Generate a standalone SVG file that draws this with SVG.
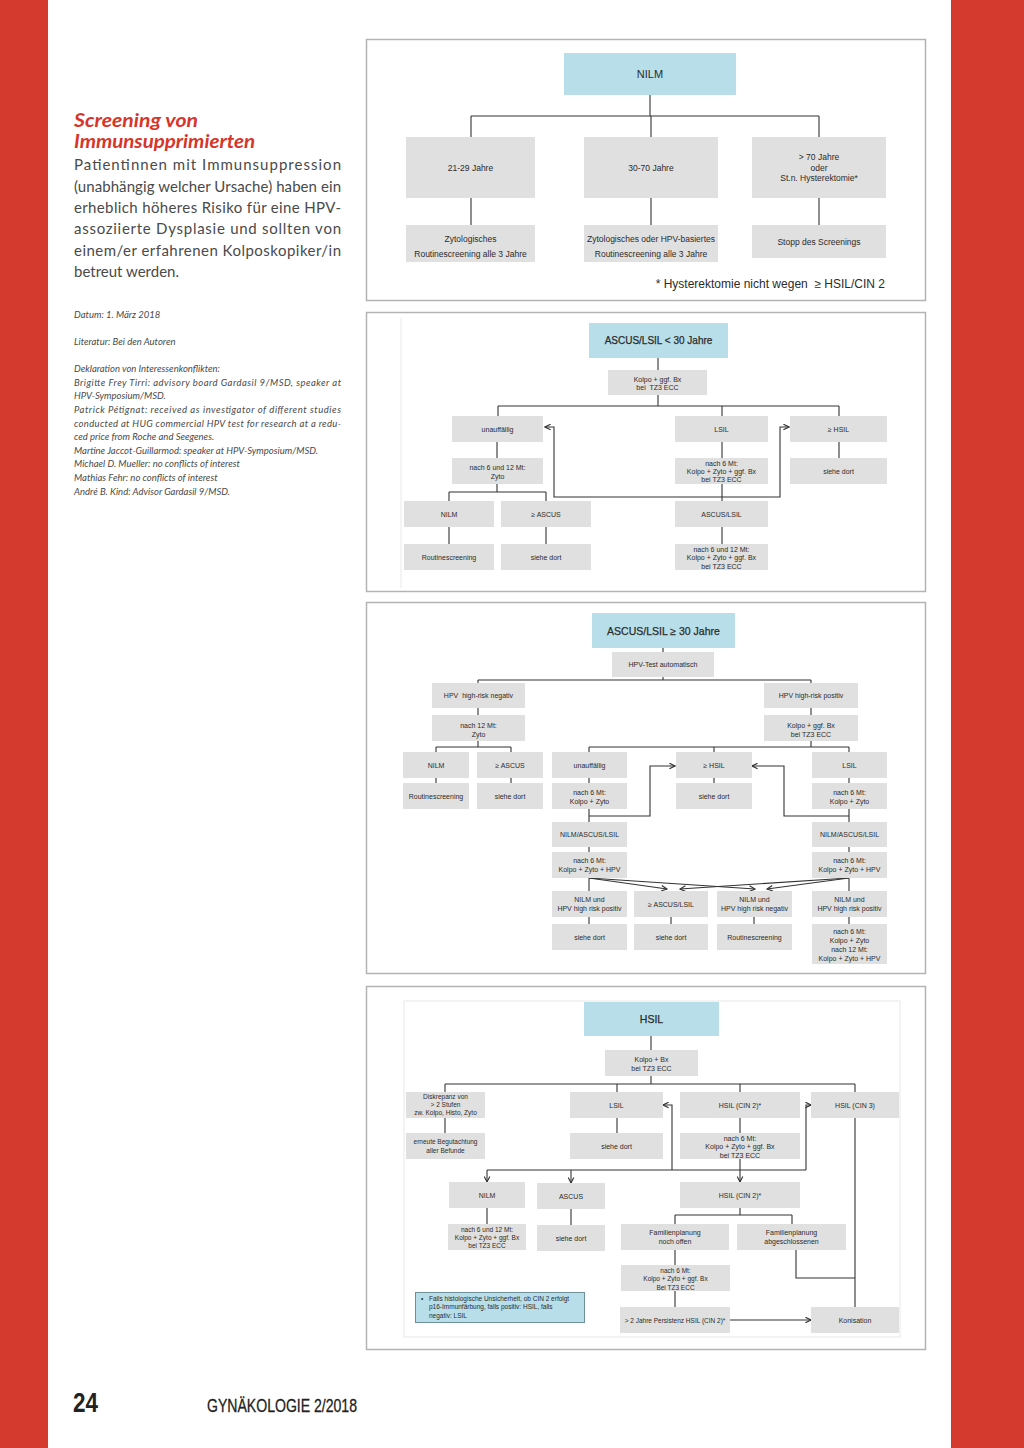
<svg xmlns="http://www.w3.org/2000/svg" width="1024" height="1448" viewBox="0 0 1024 1448">
<style>
.bx{fill:#e0e0e0}
.bb{fill:#b8dfe9}
.t{font-family:"Liberation Sans",Arial,sans-serif;fill:#2b2b2b;text-anchor:middle}
.f7{font-size:7px}
.f65{font-size:6.5px}
.f85{font-size:8.5px}
.tt{stroke:#2b2b2b;stroke-width:0.25}
.cn path{stroke:#333;stroke-width:1.1;fill:none}
.pn{fill:#fff;stroke:#b3b3b3;stroke-width:1.5}
.inner{fill:none;stroke:#e2e2e2;stroke-width:0.8}
.body{font-family:Lato,"Open Sans",sans-serif;fill:#4a4a4a;font-size:15px}
.sm{font-family:Lato,"Open Sans",sans-serif;fill:#4a4a4a;font-size:9.5px;font-style:italic}
</style>
<defs>
<marker id="ah" viewBox="0 0 10 10" refX="9" refY="5" markerWidth="7" markerHeight="7" markerUnits="userSpaceOnUse" orient="auto-start-reverse">
<path d="M1,1 L9,5 L1,9" fill="none" stroke="#333" stroke-width="1.6"/>
</marker>
</defs>
<rect width="1024" height="1448" fill="#fff"/>
<rect x="0" y="0" width="48" height="1448" fill="#d43a2e"/>
<rect x="951" y="0" width="73" height="1448" fill="#d43a2e"/>

<!-- left column text -->
<g id="left-text">
<text x="74" y="127" font-family="Lato,'Open Sans',sans-serif" font-size="18.5" font-weight="bold" font-style="italic" fill="#d7352a" textLength="124" lengthAdjust="spacingAndGlyphs">Screening von</text>
<text x="74" y="148" font-family="Lato,'Open Sans',sans-serif" font-size="18.5" font-weight="bold" font-style="italic" fill="#d7352a" textLength="181" lengthAdjust="spacingAndGlyphs">Immunsupprimierten</text>
<text class="body" x="74" y="170" textLength="267" lengthAdjust="spacing">Patientinnen mit Immunsuppression</text>
<text class="body" x="74" y="192" textLength="267" lengthAdjust="spacing">(unabhängig welcher Ursache) haben ein</text>
<text class="body" x="74" y="213" textLength="267" lengthAdjust="spacing">erheblich höheres Risiko für eine HPV-</text>
<text class="body" x="74" y="234" textLength="267" lengthAdjust="spacing">assoziierte Dysplasie und sollten von</text>
<text class="body" x="74" y="256" textLength="267" lengthAdjust="spacing">einem/er erfahrenen Kolposkopiker/in</text>
<text class="body" x="74" y="277">betreut werden.</text>
<text class="sm" x="74" y="318">Datum: 1. März 2018</text>
<text class="sm" x="74" y="345">Literatur: Bei den Autoren</text>
<text class="sm" x="74" y="372">Deklaration von Interessenkonflikten:</text>
<text class="sm" x="74" y="386" textLength="267" lengthAdjust="spacing">Brigitte Frey Tirri: advisory board Gardasil 9/MSD, speaker at</text>
<text class="sm" x="74" y="399">HPV-Symposium/MSD.</text>
<text class="sm" x="74" y="413" textLength="267" lengthAdjust="spacing">Patrick Pétignat: received as investigator of different studies</text>
<text class="sm" x="74" y="427" textLength="267" lengthAdjust="spacing">conducted at HUG commercial HPV test for research at a redu-</text>
<text class="sm" x="74" y="440">ced price from Roche and Seegenes.</text>
<text class="sm" x="74" y="454">Martine Jaccot-Guillarmod: speaker at HPV-Symposium/MSD.</text>
<text class="sm" x="74" y="467">Michael D. Mueller: no conflicts of interest</text>
<text class="sm" x="74" y="481">Mathias Fehr: no conflicts of interest</text>
<text class="sm" x="74" y="495">André B. Kind: Advisor Gardasil 9/MSD.</text>
</g>

<g id="footer">
<text x="73" y="1412" font-family="'Liberation Sans',Arial,sans-serif" font-size="27" font-weight="bold" fill="#222" textLength="25" lengthAdjust="spacingAndGlyphs">24</text>
<text x="207" y="1412" font-family="'Liberation Sans',Arial,sans-serif" font-size="19" fill="#222" stroke="#222" stroke-width="0.3" textLength="150" lengthAdjust="spacingAndGlyphs">GYNÄKOLOGIE 2/2018</text>
</g>

<!-- panel frames -->
<g id="panels">
<rect class="pn" x="366.5" y="39.5" width="559" height="261"/>
<rect class="pn" x="366.5" y="312.5" width="559" height="279"/>
<path class="inner" d="M401,318 V588"/>
<rect class="pn" x="366.5" y="602.5" width="559" height="371"/>
<rect class="pn" x="366.5" y="986.5" width="559" height="363"/>
<rect class="inner" x="404" y="1001" width="496" height="336"/>
</g>

<!-- connectors -->
<g id="connectors" class="cn">
<!-- panel 1 -->
<path d="M650,95 V116 M471,116 H819 M471,116 V137 M651,116 V137 M819,116 V137"/>
<path d="M471,198 V225 M651,198 V225 M819,198 V225"/>
<!-- panel 2 -->
<path d="M658,358 V370 M658,395 V406 M498,406 H839 M498,406 V416 M722,406 V416 M839,406 V416"/>
<path d="M497,442 V458 M497,484 V492 M449,492 H546 M449,492 V501 M546,492 V501 M449,527 V544 M546,527 V544"/>
<path d="M722,442 V458 M722,484 V501 M722,527 V544 M839,442 V458"/>
<path d="M545,427 H554 V497 H780 V427 H789" marker-start="url(#ah)" marker-end="url(#ah)"/>
<!-- panel 3 -->
<path d="M663,648 V652 M663,677 V680 M478,680 H811 M478,680 V683 M811,680 V683"/>
<path d="M478,708 V715 M478,741 V747 M436,747 H511 M436,747 V752 M511,747 V752 M436,778 V783 M511,778 V783"/>
<path d="M811,708 V715 M811,741 V747 M589,747 H849 M589,747 V752 M714,747 V752 M849,747 V752"/>
<path d="M589,778 V783 M714,778 V783 M849,778 V783 M589,809 V822 M849,809 V822"/>
<path d="M589,816 H650 V766 H675" marker-end="url(#ah)"/>
<path d="M849,816 H784 V766 H752" marker-end="url(#ah)"/>
<path d="M589,847 V852 M849,847 V852 M589,878 V891 M849,878 V891"/>
<path d="M589,878 L667,889" marker-end="url(#ah)"/>
<path d="M589,878 L755,889" marker-end="url(#ah)"/>
<path d="M849,878 L680,889" marker-end="url(#ah)"/>
<path d="M849,878 L767,889" marker-end="url(#ah)"/>
<path d="M589,917 V924 M671,917 V924 M754,917 V924 M849,917 V924"/>
<!-- panel 4 -->
<path d="M651,1036 V1050 M651,1076 V1084 M445,1084 H855 M445,1084 V1092 M617,1084 V1092 M740,1084 V1092 M855,1084 V1092"/>
<path d="M445,1118 V1133 M617,1118 V1133 M740,1118 V1133"/>
<path d="M663,1105 H672 V1170" marker-start="url(#ah)"/>
<path d="M806,1170 V1105 H811" marker-end="url(#ah)"/>
<path d="M487,1170 H806"/>
<path d="M487,1170 V1182" marker-end="url(#ah)"/>
<path d="M571,1170 V1183" marker-end="url(#ah)"/>
<path d="M740,1159 V1182" marker-end="url(#ah)"/>
<path d="M487,1208 V1224 M571,1209 V1225 M740,1208 V1215 M675,1215 H792 M675,1215 V1224 M792,1215 V1224"/>
<path d="M675,1250 V1265 M675,1291 V1307 M855,1118 V1307 M796,1250 V1278 H855"/>
<path d="M730,1320 H811" marker-end="url(#ah)"/>
</g>

<!-- panel 1 nodes -->
<g id="p1-nilm"><rect class="bb" x="564" y="53" width="172" height="42"/><text class="t" x="650" y="78" font-size="11">NILM</text></g>
<g id="p1-21-29"><rect class="bx" x="406" y="137" width="129" height="61"/><text class="t f85" x="470.5" y="171">21-29 Jahre</text></g>
<g id="p1-30-70"><rect class="bx" x="584" y="137" width="134" height="61"/><text class="t f85" x="651" y="171">30-70 Jahre</text></g>
<g id="p1-70"><rect class="bx" x="752" y="137" width="134" height="61"/><text class="t f85" x="819" y="160">&gt; 70 Jahre</text><text class="t f85" x="819" y="171">oder</text><text class="t f85" x="819" y="181">St.n. Hysterektomie*</text></g>
<g id="p1-zyto"><rect class="bx" x="406" y="225" width="129" height="37"/><text class="t f85" x="470.5" y="242">Zytologisches</text><text class="t f85" x="470.5" y="257">Routinescreening alle 3 Jahre</text></g>
<g id="p1-zytohpv"><rect class="bx" x="584" y="225" width="134" height="37"/><text class="t f85" x="651" y="242">Zytologisches oder HPV-basiertes</text><text class="t f85" x="651" y="257">Routinescreening alle 3 Jahre</text></g>
<g id="p1-stopp"><rect class="bx" x="752" y="225" width="134" height="33"/><text class="t f85" x="819" y="245">Stopp des Screenings</text></g>
<g id="p1-note"><text class="t" x="885" y="288" font-size="12" style="text-anchor:end" xml:space="preserve">* Hysterektomie nicht wegen  ≥ HSIL/CIN 2</text></g>

<!-- panel 2 nodes -->
<g id="p2-title"><rect class="bb" x="589" y="323" width="139" height="35"/><text class="t tt" x="658.5" y="344" font-size="10">ASCUS/LSIL &lt; 30 Jahre</text></g>
<g id="p2-kolpo"><rect class="bx" x="608" y="370" width="99" height="25"/><text class="t f7" x="657.5" y="381.5">Kolpo + ggf. Bx</text><text class="t f7" x="657.5" y="389.5" xml:space="preserve">bei  TZ3 ECC</text></g>
<g id="p2-unauff"><rect class="bx" x="452" y="416" width="91" height="26"/><text class="t f7" x="497.5" y="431.5">unauffällig</text></g>
<g id="p2-lsil"><rect class="bx" x="675" y="416" width="93" height="26"/><text class="t f7" x="721.5" y="431.5">LSIL</text></g>
<g id="p2-hsil"><rect class="bx" x="790" y="416" width="97" height="26"/><text class="t f7" x="838.5" y="431.5">≥ HSIL</text></g>
<g id="p2-n612"><rect class="bx" x="452" y="458" width="91" height="26"/><text class="t f7" x="497.5" y="469.5">nach 6 und 12 Mt:</text><text class="t f7" x="497.5" y="478.5">Zyto</text></g>
<g id="p2-n6"><rect class="bx" x="675" y="458" width="93" height="26"/><text class="t f7" x="721.5" y="465.5">nach 6 Mt:</text><text class="t f7" x="721.5" y="473.5">Kolpo + Zyto + ggf. Bx</text><text class="t f7" x="721.5" y="481.5">bei TZ3 ECC</text></g>
<g id="p2-siehe1"><rect class="bx" x="790" y="458" width="97" height="26"/><text class="t f7" x="838.5" y="473.5">siehe dort</text></g>
<g id="p2-nilm"><rect class="bx" x="404" y="501" width="90" height="26"/><text class="t f7" x="449" y="516.5">NILM</text></g>
<g id="p2-ascus"><rect class="bx" x="501" y="501" width="90" height="26"/><text class="t f7" x="546" y="516.5">≥ ASCUS</text></g>
<g id="p2-ascuslsil"><rect class="bx" x="675" y="501" width="93" height="26"/><text class="t f7" x="721.5" y="516.5">ASCUS/LSIL</text></g>
<g id="p2-routine"><rect class="bx" x="404" y="544" width="90" height="26"/><text class="t f7" x="449" y="559.5">Routinescreening</text></g>
<g id="p2-siehe2"><rect class="bx" x="501" y="544" width="90" height="26"/><text class="t f7" x="546" y="559.5">siehe dort</text></g>
<g id="p2-n612b"><rect class="bx" x="675" y="544" width="93" height="26"/><text class="t f7" x="721.5" y="551.5">nach 6 und 12 Mt:</text><text class="t f7" x="721.5" y="560">Kolpo + Zyto + ggf. Bx</text><text class="t f7" x="721.5" y="568.5">bei TZ3 ECC</text></g>

<!-- panel 3 nodes -->
<g id="p3-title"><rect class="bb" x="592" y="613" width="143" height="35"/><text class="t tt" x="663.5" y="634.5" font-size="10.5">ASCUS/LSIL ≥ 30 Jahre</text></g>
<g id="p3-hpvtest"><rect class="bx" x="612" y="652" width="102" height="25"/><text class="t f7" x="663" y="667">HPV-Test automatisch</text></g>
<g id="p3-neg"><rect class="bx" x="432" y="683" width="93" height="25"/><text class="t f7" x="478.5" y="698" xml:space="preserve">HPV  high-risk negativ</text></g>
<g id="p3-pos"><rect class="bx" x="764" y="683" width="94" height="25"/><text class="t f7" x="811" y="698">HPV high-risk positiv</text></g>
<g id="p3-n12"><rect class="bx" x="432" y="715" width="93" height="26"/><text class="t f7" x="478.5" y="727.5">nach 12 Mt:</text><text class="t f7" x="478.5" y="736.5">Zyto</text></g>
<g id="p3-kolpo"><rect class="bx" x="764" y="715" width="94" height="26"/><text class="t f7" x="811" y="727.5">Kolpo + ggf. Bx</text><text class="t f7" x="811" y="736.5">bei TZ3 ECC</text></g>
<g id="p3-nilm"><rect class="bx" x="403" y="752" width="66" height="26"/><text class="t f7" x="436" y="767.5">NILM</text></g>
<g id="p3-ascus"><rect class="bx" x="477" y="752" width="66" height="26"/><text class="t f7" x="510" y="767.5">≥ ASCUS</text></g>
<g id="p3-unauff"><rect class="bx" x="552" y="752" width="75" height="26"/><text class="t f7" x="589.5" y="767.5">unauffällig</text></g>
<g id="p3-hsil"><rect class="bx" x="676" y="752" width="76" height="26"/><text class="t f7" x="714" y="767.5">≥ HSIL</text></g>
<g id="p3-lsil"><rect class="bx" x="812" y="752" width="75" height="26"/><text class="t f7" x="849.5" y="767.5">LSIL</text></g>
<g id="p3-routine"><rect class="bx" x="403" y="783" width="66" height="26"/><text class="t f7" x="436" y="798.5">Routinescreening</text></g>
<g id="p3-siehe1"><rect class="bx" x="477" y="783" width="66" height="26"/><text class="t f7" x="510" y="798.5">siehe dort</text></g>
<g id="p3-n6a"><rect class="bx" x="552" y="783" width="75" height="26"/><text class="t f7" x="589.5" y="794.5">nach 6 Mt:</text><text class="t f7" x="589.5" y="803.5">Kolpo + Zyto</text></g>
<g id="p3-siehe2"><rect class="bx" x="676" y="783" width="76" height="26"/><text class="t f7" x="714" y="798.5">siehe dort</text></g>
<g id="p3-n6b"><rect class="bx" x="812" y="783" width="75" height="26"/><text class="t f7" x="849.5" y="794.5">nach 6 Mt:</text><text class="t f7" x="849.5" y="803.5">Kolpo + Zyto</text></g>
<g id="p3-nal1"><rect class="bx" x="552" y="822" width="75" height="25"/><text class="t f7" x="589.5" y="837">NILM/ASCUS/LSIL</text></g>
<g id="p3-nal2"><rect class="bx" x="812" y="822" width="75" height="25"/><text class="t f7" x="849.5" y="837">NILM/ASCUS/LSIL</text></g>
<g id="p3-n6c"><rect class="bx" x="552" y="852" width="75" height="26"/><text class="t f7" x="589.5" y="863">nach 6 Mt:</text><text class="t f7" x="589.5" y="872">Kolpo + Zyto + HPV</text></g>
<g id="p3-n6d"><rect class="bx" x="812" y="852" width="75" height="26"/><text class="t f7" x="849.5" y="863">nach 6 Mt:</text><text class="t f7" x="849.5" y="872">Kolpo + Zyto + HPV</text></g>
<g id="p3-nilmpos1"><rect class="bx" x="552" y="891" width="75" height="26"/><text class="t f7" x="589.5" y="902">NILM und</text><text class="t f7" x="589.5" y="911">HPV high risk positiv</text></g>
<g id="p3-ascuslsil"><rect class="bx" x="634" y="891" width="74" height="26"/><text class="t f7" x="671" y="906.5">≥ ASCUS/LSIL</text></g>
<g id="p3-nilmneg"><rect class="bx" x="717" y="891" width="75" height="26"/><text class="t f7" x="754.5" y="902">NILM und</text><text class="t f7" x="754.5" y="911">HPV high risk negativ</text></g>
<g id="p3-nilmpos2"><rect class="bx" x="812" y="891" width="75" height="26"/><text class="t f7" x="849.5" y="902">NILM und</text><text class="t f7" x="849.5" y="911">HPV high risk positiv</text></g>
<g id="p3-siehe3"><rect class="bx" x="552" y="924" width="75" height="26"/><text class="t f7" x="589.5" y="939.5">siehe dort</text></g>
<g id="p3-siehe4"><rect class="bx" x="634" y="924" width="74" height="26"/><text class="t f7" x="671" y="939.5">siehe dort</text></g>
<g id="p3-routine2"><rect class="bx" x="717" y="924" width="75" height="26"/><text class="t f7" x="754.5" y="939.5">Routinescreening</text></g>
<g id="p3-n612"><rect class="bx" x="812" y="924" width="75" height="40"/><text class="t f7" x="849.5" y="933.5">nach 6 Mt:</text><text class="t f7" x="849.5" y="942.5">Kolpo + Zyto</text><text class="t f7" x="849.5" y="951.5">nach 12 Mt:</text><text class="t f7" x="849.5" y="960.5">Kolpo + Zyto + HPV</text></g>

<!-- panel 4 nodes -->
<g id="p4-title"><rect class="bb" x="584" y="1002" width="135" height="34"/><text class="t tt" x="651.5" y="1023" font-size="10.5">HSIL</text></g>
<g id="p4-kolpo"><rect class="bx" x="605" y="1050" width="93" height="26"/><text class="t f7" x="651.5" y="1062">Kolpo + Bx</text><text class="t f7" x="651.5" y="1070.5">bei TZ3 ECC</text></g>
<g id="p4-diskr"><rect class="bx" x="406" y="1092" width="79" height="26"/><text class="t f65" x="445.5" y="1099">Diskrepanz von</text><text class="t f65" x="445.5" y="1107">&gt; 2 Stufen</text><text class="t f65" x="445.5" y="1115">zw. Kolpo, Histo, Zyto</text></g>
<g id="p4-lsil"><rect class="bx" x="570" y="1092" width="93" height="26"/><text class="t f7" x="616.5" y="1107.5">LSIL</text></g>
<g id="p4-cin2a"><rect class="bx" x="680" y="1092" width="120" height="26"/><text class="t f7" x="740" y="1107.5">HSIL (CIN 2)*</text></g>
<g id="p4-cin3"><rect class="bx" x="811" y="1092" width="88" height="26"/><text class="t f7" x="855" y="1107.5">HSIL (CIN 3)</text></g>
<g id="p4-erneut"><rect class="bx" x="406" y="1133" width="79" height="26"/><text class="t f65" x="445.5" y="1144">erneute Begutachtung</text><text class="t f65" x="445.5" y="1152.5">aller Befunde</text></g>
<g id="p4-siehe1"><rect class="bx" x="570" y="1133" width="93" height="26"/><text class="t f7" x="616.5" y="1148.5">siehe dort</text></g>
<g id="p4-n6"><rect class="bx" x="680" y="1133" width="120" height="26"/><text class="t f7" x="740" y="1140.5">nach 6 Mt:</text><text class="t f7" x="740" y="1149">Kolpo + Zyto + ggf. Bx</text><text class="t f7" x="740" y="1157.5">bei TZ3 ECC</text></g>
<g id="p4-nilm"><rect class="bx" x="449" y="1182" width="76" height="26"/><text class="t f7" x="487" y="1197.5">NILM</text></g>
<g id="p4-ascus"><rect class="bx" x="537" y="1183" width="68" height="26"/><text class="t f7" x="571" y="1198.5">ASCUS</text></g>
<g id="p4-cin2b"><rect class="bx" x="680" y="1182" width="120" height="26"/><text class="t f7" x="740" y="1197.5">HSIL (CIN 2)*</text></g>
<g id="p4-n612"><rect class="bx" x="448" y="1224" width="78" height="26"/><text class="t f65" x="487" y="1231.5">nach 6 und 12 Mt:</text><text class="t f65" x="487" y="1239.5">Kolpo + Zyto + ggf. Bx</text><text class="t f65" x="487" y="1247.5">bei TZ3 ECC</text></g>
<g id="p4-siehe2"><rect class="bx" x="537" y="1225" width="68" height="26"/><text class="t f7" x="571" y="1240.5">siehe dort</text></g>
<g id="p4-famoffen"><rect class="bx" x="621" y="1224" width="108" height="26"/><text class="t f7" x="675" y="1235">Familienplanung</text><text class="t f7" x="675" y="1244">noch offen</text></g>
<g id="p4-famabg"><rect class="bx" x="737" y="1224" width="109" height="26"/><text class="t f7" x="791.5" y="1235">Familienplanung</text><text class="t f7" x="791.5" y="1244">abgeschlossenen</text></g>
<g id="p4-n6b"><rect class="bx" x="621" y="1265" width="109" height="26"/><text class="t f65" x="675.5" y="1272.5">nach 6 Mt:</text><text class="t f65" x="675.5" y="1281">Kolpo + Zyto + ggf. Bx</text><text class="t f65" x="675.5" y="1289.5">Bei TZ3 ECC</text></g>
<g id="p4-persist"><rect class="bx" x="620" y="1307" width="110" height="26"/><text class="t f65" x="675" y="1322.5">&gt; 2 Jahre Persistenz HSIL (CIN 2)*</text></g>
<g id="p4-konis"><rect class="bx" x="811" y="1307" width="88" height="26"/><text class="t f7" x="855" y="1322.5">Konisation</text></g>
<g id="p4-note"><rect x="415.5" y="1292.5" width="169" height="30" fill="#b8dfe9" stroke="#6d8f9a" stroke-width="1"/>
<text class="t f65" x="421" y="1300.5" style="text-anchor:start">•</text>
<text class="t f65" x="429" y="1300.5" style="text-anchor:start">Falls histologische Unsicherheit, ob CIN 2 erfolgt</text>
<text class="t f65" x="429" y="1309" style="text-anchor:start">p16-Immunfärbung, falls positiv: HSIL, falls</text>
<text class="t f65" x="429" y="1317.5" style="text-anchor:start">negativ: LSIL</text></g>
</svg>
